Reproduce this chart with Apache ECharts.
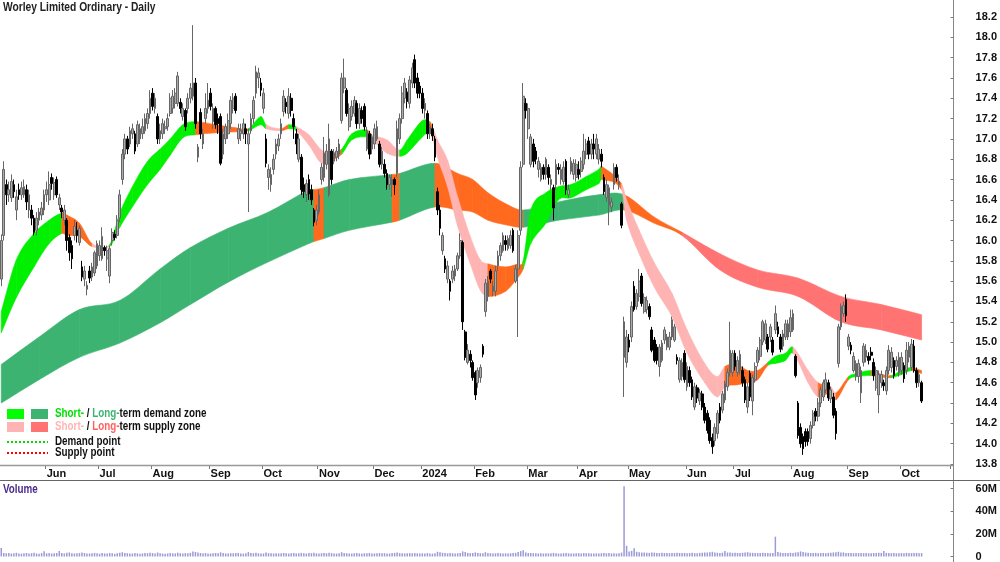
<!DOCTYPE html>
<html><head><meta charset="utf-8">
<script src="https://cdn.jsdelivr.net/npm/echarts@6/dist/echarts.min.js"></script>
<style>html,body{margin:0;padding:0;background:#fff}#c{width:1000px;height:562px}</style>
</head><body><div id="c"></div>
<script>
// ---- data: [open, close, low, high] per trading day ----
const candles = [
[15.62,16.00,15.55,16.06],[16.05,16.70,16.00,16.78],[16.55,16.45,16.35,16.60],[16.45,16.50,16.38,16.58],[16.42,16.58,16.38,16.65],
[16.55,16.48,16.42,16.60],[16.30,16.43,16.20,16.50],[16.50,16.45,16.40,16.56],[16.45,16.52,16.40,16.58],[16.45,16.53,16.42,16.60],
[16.50,16.38,16.30,16.55],[16.30,16.45,16.22,16.50],[16.30,16.22,16.15,16.35],[16.22,16.08,16.05,16.25],[16.10,16.22,16.05,16.28],
[16.20,16.28,16.15,16.32],[16.25,16.32,16.20,16.38],[16.30,16.45,16.25,16.50],[16.45,16.50,16.38,16.58],[16.40,16.55,16.35,16.68],
[16.62,16.56,16.50,16.66],[16.45,16.57,16.40,16.62],[16.60,16.45,16.42,16.63],[16.35,16.42,16.30,16.46],[16.32,16.28,16.22,16.35],
[16.20,16.30,16.15,16.35],[16.20,16.00,15.90,16.22],[16.03,15.88,15.80,16.06],[15.95,15.82,15.72,16.00],[16.05,16.14,16.00,16.20],
[16.10,16.05,15.98,16.18],[15.98,16.12,15.95,16.15],[15.74,15.64,15.60,15.80],[15.62,15.70,15.55,15.75],[15.52,15.56,15.46,15.60],
[15.70,15.63,15.58,15.75],[15.64,15.74,15.60,15.78],[15.68,15.88,15.65,15.90],[15.75,15.97,15.72,16.00],[15.85,15.95,15.80,16.00],
[15.82,16.04,15.80,16.13],[15.93,15.90,15.85,15.95],[15.82,15.90,15.70,15.95],[15.65,15.92,15.58,15.95],[16.00,16.08,15.95,16.12],
[16.06,16.03,16.00,16.10],[16.05,16.20,16.02,16.25],[16.22,16.45,16.18,16.50],[16.60,16.85,16.55,16.90],[16.85,17.00,16.80,17.05],
[17.00,16.90,16.85,17.03],[16.95,17.08,16.92,17.12],[17.05,17.10,17.00,17.15],[17.05,16.88,16.85,17.08],[16.95,17.14,16.92,17.18],
[17.00,17.10,16.95,17.15],[17.05,17.12,17.00,17.20],[17.08,17.20,17.05,17.25],[17.15,17.25,17.10,17.30],[17.25,17.40,17.20,17.48],
[17.45,17.32,17.28,17.50],[17.30,17.40,17.25,17.45],[17.22,17.00,16.95,17.25],[17.00,17.08,16.95,17.15],[17.05,17.15,17.00,17.20],
[17.10,17.12,17.05,17.18],[17.12,17.20,17.08,17.25],[17.25,17.40,17.22,17.45],[17.30,17.42,17.25,17.48],[17.35,17.45,17.30,17.50],
[17.35,17.62,17.32,17.66],[17.36,17.30,17.25,17.40],[17.22,17.30,17.18,17.35],[17.28,17.12,17.08,17.30],[17.30,17.40,17.25,17.45],
[17.40,17.50,17.35,17.55],[17.42,17.55,17.38,18.12],[17.55,17.15,17.10,17.60],[16.82,16.92,16.77,16.95],[17.26,17.05,17.00,17.30],
[16.95,17.05,16.90,17.10],[17.20,17.30,17.15,17.45],[17.30,17.38,17.25,17.55],[17.45,17.32,17.28,17.50],[17.17,17.30,17.10,17.35],
[17.30,17.14,17.10,17.32],[17.20,17.15,17.05,17.25],[17.22,16.76,16.74,17.25],[16.85,17.05,16.80,17.10],[17.00,17.12,16.95,17.15],
[17.05,17.18,17.00,17.25],[17.15,17.38,17.10,17.42],[17.30,17.40,17.25,17.45],[17.42,17.28,17.25,17.45],[17.00,17.10,16.95,17.15],
[17.05,17.08,16.98,17.15],[17.05,17.15,17.00,17.20],[17.10,17.05,16.95,17.15],[16.95,17.05,16.28,17.10],[17.08,17.20,17.05,17.25],
[17.20,17.38,17.15,17.42],[17.45,17.66,17.40,17.72],[17.60,17.65,17.50,17.70],[17.55,17.48,17.42,17.60],[17.30,17.45,17.25,17.50],
[17.00,16.76,16.72,17.05],[16.62,16.70,16.50,16.75],[16.55,16.65,16.48,16.72],[16.70,16.80,16.65,16.85],[16.85,16.95,16.80,17.00],
[16.93,17.00,16.88,17.05],[17.05,17.15,17.00,17.20],[17.27,17.42,17.22,17.48],[17.36,17.32,17.25,17.40],[17.25,17.42,17.20,17.50],
[17.40,17.28,17.22,17.45],[17.20,17.12,17.00,17.25],[17.05,16.95,16.85,17.10],[16.80,17.00,16.77,17.05],[16.82,16.50,16.45,16.85],
[16.55,16.48,16.42,16.62],[16.45,16.56,16.38,16.60],[16.60,16.46,16.40,16.65],[16.50,16.40,16.35,16.55],[16.30,16.18,16.14,16.32],
[16.20,16.30,16.15,16.35],[16.28,16.45,16.25,16.50],[16.60,16.72,16.55,16.76],[16.62,16.86,16.58,17.02],[16.75,16.88,16.70,16.95],
[16.45,17.00,16.43,17.15],[16.88,16.60,16.55,16.90],[16.78,16.86,16.75,16.90],[16.82,16.88,16.78,16.92],[16.85,16.95,16.80,17.00],
[17.18,17.60,17.15,17.65],[17.50,17.60,17.45,17.79],[17.48,17.25,17.22,17.50],[17.12,17.30,17.08,17.35],[17.22,17.32,17.18,17.38],
[17.25,17.38,17.22,17.42],[17.35,17.15,17.10,17.38],[17.15,17.30,17.10,17.35],[17.28,17.20,17.15,17.32],[17.32,17.12,17.08,17.35],
[16.90,17.08,16.88,17.12],[17.05,16.85,16.80,17.08],[16.90,17.02,16.85,17.05],[16.95,17.10,16.90,17.15],[17.00,17.12,16.98,17.18],
[16.95,16.75,16.72,16.98],[16.75,16.88,16.70,16.92],[16.75,16.66,16.62,16.80],[16.66,16.55,16.50,16.70],[16.55,16.62,16.50,16.65],
[16.55,16.60,16.43,16.65],[16.60,16.55,16.45,16.62],[16.66,17.10,16.62,17.18],[17.00,17.20,16.95,17.25],[17.20,17.45,17.15,17.52],
[17.40,17.55,17.35,17.60],[17.46,17.37,17.30,17.50],[17.35,17.58,17.30,17.62],[17.55,17.70,17.50,17.75],[17.78,17.55,17.50,17.83],
[17.60,17.45,17.40,17.65],[17.52,17.45,17.40,17.56],[17.45,17.30,17.25,17.50],[17.28,17.35,17.20,17.40],[17.25,17.05,17.00,17.28],
[17.05,17.12,17.00,17.15],[17.10,17.03,16.98,17.15],[17.00,16.82,16.78,17.03],[16.48,16.30,16.25,16.52],[16.30,16.12,16.05,16.35],
[15.90,16.05,15.86,16.08],[15.82,15.72,15.68,15.85],[15.62,15.75,15.58,15.80],[15.60,15.50,15.41,15.62],[15.62,15.70,15.58,15.75],
[15.65,15.72,15.60,15.76],[15.72,15.85,15.70,15.88],[15.85,16.00,15.82,16.07],[15.98,15.20,15.12,16.00],[15.10,14.85,14.82,15.12],
[14.80,14.92,14.78,14.98],[14.88,14.82,14.75,14.92],[14.80,14.65,14.62,14.82],[14.70,14.48,14.43,14.72],[14.60,14.72,14.55,14.75],
[14.65,14.75,14.60,14.78],[14.96,14.88,14.85,14.98],[15.30,15.58,15.25,15.62],[15.45,15.60,15.40,15.65],[15.70,15.62,15.58,15.72],
[15.50,15.55,15.45,15.60],[15.50,15.70,15.45,15.75],[15.75,15.85,15.70,15.90],[15.85,15.95,15.80,15.98],[15.90,16.05,15.88,16.08],
[16.00,15.96,15.90,16.05],[15.92,16.02,15.90,16.05],[15.95,16.05,15.92,16.10],[16.10,15.90,15.88,16.12],[15.60,15.72,15.58,15.76],
[15.72,16.05,15.05,16.10],[16.10,16.72,16.05,16.78],[16.75,17.42,16.72,17.55],[17.35,17.28,17.20,17.40],[17.10,17.30,17.00,17.35],
[16.75,17.02,16.72,17.05],[16.95,16.78,16.72,17.00],[16.88,16.80,16.75,16.92],[16.70,16.78,16.62,16.82],[16.60,16.72,16.58,16.76],
[16.72,16.65,16.60,16.75],[16.65,16.80,16.60,16.82],[16.72,16.62,16.55,16.75],[16.55,16.60,16.50,16.65],[16.52,16.32,16.20,16.55],
[16.55,16.75,16.50,16.80],[16.72,16.70,16.65,16.76],[16.60,16.70,16.55,16.75],[16.58,16.72,16.55,16.78],[16.78,16.50,16.45,16.80],
[16.45,16.50,16.42,16.55],[16.68,16.78,16.65,16.82],[16.65,16.76,16.60,16.80],[16.62,16.75,16.58,16.80],[16.70,16.65,16.60,16.78],
[16.68,16.78,16.62,16.82],[16.75,16.88,16.70,17.05],[16.85,16.95,16.80,17.00],[16.98,16.85,16.80,17.02],[16.85,16.95,16.80,17.00],
[16.95,16.90,16.80,17.05],[16.85,17.00,16.80,17.05],[16.80,16.90,16.75,16.95],[16.85,16.78,16.72,16.90],[16.62,16.48,16.45,16.65],
[16.42,16.55,16.38,16.60],[16.35,16.52,16.15,16.55],[16.33,16.38,16.28,16.42],[16.55,16.72,16.50,16.76],[16.72,16.62,16.58,16.75],
[16.55,16.58,16.50,16.65],[16.36,16.15,16.12,16.38],[14.85,15.20,14.46,15.25],[14.80,15.05,14.75,15.12],[15.02,14.95,14.90,15.08],
[15.05,15.35,15.00,15.40],[15.55,15.32,15.30,15.60],[15.35,15.48,15.32,15.52],[15.45,15.60,15.40,15.72],[15.65,15.38,15.35,15.68],
[15.30,15.44,15.28,15.48],[15.32,15.41,15.28,15.45],[15.35,15.25,15.22,15.38],[15.12,14.92,14.90,15.15],[15.02,14.82,14.80,15.05],
[14.95,14.82,14.78,14.98],[14.76,14.95,14.66,14.98],[14.82,14.99,14.80,15.02],[15.02,15.12,14.98,15.15],[14.95,15.05,14.92,15.08],
[14.95,15.05,14.92,15.10],[15.05,15.22,15.02,15.25],[15.02,15.15,15.00,15.18],[14.85,14.82,14.78,14.88],[14.63,14.82,14.60,14.85],
[14.66,14.80,14.62,14.84],[14.89,14.63,14.60,14.92],[14.56,14.76,14.52,14.80],[14.72,14.60,14.56,14.76],[14.63,14.46,14.43,14.66],
[14.36,14.56,14.33,14.60],[14.55,14.45,14.40,14.58],[14.42,14.50,14.38,14.54],[14.49,14.36,14.33,14.52],[14.36,14.23,14.20,14.40],
[14.30,14.13,14.10,14.33],[14.23,14.03,14.00,14.26],[14.06,13.97,13.90,14.10],[14.03,14.16,13.98,14.20],[14.10,14.30,14.05,14.33],
[14.36,14.23,14.20,14.40],[14.33,14.49,14.30,14.52],[14.43,14.59,14.40,14.62],[14.56,14.70,14.52,14.74],[14.70,14.92,14.66,15.20],
[14.70,14.89,14.66,14.92],[14.89,14.76,14.72,14.92],[14.70,14.82,14.66,14.86],[14.72,14.88,14.68,14.92],[14.72,14.60,14.56,14.76],
[14.63,14.43,14.40,14.66],[14.36,14.56,14.30,14.60],[14.69,14.46,14.42,14.72],[14.42,14.65,14.28,14.68],[14.63,14.76,14.60,14.80],
[14.80,14.92,14.76,14.95],[14.86,15.02,14.82,15.05],[15.00,15.20,14.97,15.22],[15.02,15.18,14.98,15.22],[15.05,14.93,14.90,15.08],
[15.05,15.15,15.00,15.18],[15.02,14.90,14.87,15.05],[15.12,15.28,15.08,15.36],[15.15,15.08,15.05,15.20],[15.05,14.93,14.90,15.08],
[14.96,15.08,14.92,15.12],[15.05,15.18,15.02,15.22],[15.05,15.18,15.02,15.22],[15.10,15.24,15.05,15.32],[15.12,15.28,15.10,15.32],
[14.86,14.67,14.65,14.88],[14.40,14.08,14.05,14.42],[14.16,14.00,13.96,14.20],[14.07,13.95,13.89,14.10],[14.12,14.02,13.97,14.15],
[14.12,14.02,13.98,14.15],[14.05,14.18,14.00,14.22],[14.18,14.30,14.15,14.33],[14.32,14.27,14.22,14.35],[14.27,14.40,14.22,14.45],
[14.40,14.53,14.36,14.56],[14.46,14.60,14.42,14.63],[14.53,14.63,14.50,14.70],[14.60,14.45,14.42,14.63],[14.44,14.53,14.40,14.56],
[14.46,14.28,14.25,14.50],[14.32,14.10,14.04,14.35],[14.79,15.15,14.75,15.18],[15.15,15.35,15.12,15.38],[15.28,15.36,15.25,15.40],
[15.42,15.26,15.20,15.47],[14.96,15.05,14.92,15.08],[14.97,14.92,14.88,15.00],[14.72,14.86,14.70,14.90],[14.66,14.79,14.62,14.82],
[14.66,14.79,14.60,14.83],[14.50,14.72,14.40,14.76],[14.80,14.96,14.76,14.99],[14.85,14.92,14.80,14.98],[14.86,14.82,14.78,14.90],
[14.90,14.87,14.82,14.95],[14.80,14.67,14.62,14.84],[14.55,14.72,14.52,14.76],[14.48,14.68,14.30,14.72],[14.60,14.68,14.55,14.72],
[14.60,14.57,14.52,14.63],[14.52,14.72,14.48,14.76],[14.72,14.92,14.68,14.97],[14.75,14.90,14.70,14.95],[14.82,14.67,14.64,14.85],
[14.76,14.82,14.72,14.86],[14.70,14.85,14.66,14.90],[14.72,14.85,14.68,14.90],[14.77,14.64,14.60,14.80],[14.72,14.92,14.68,15.00],
[14.85,14.96,14.80,15.00],[14.75,14.98,14.72,15.03],[14.96,14.72,14.70,15.02],[14.72,14.60,14.55,14.75],[14.60,14.68,14.56,14.72],
[14.60,14.42,14.40,14.62]
];
// volume, millions of shares
const volumes = [
7.5,3.2,2.8,3.0,2.6,2.9,3.3,2.7,2.5,2.8, 3.1,2.6,2.9,3.4,2.7,2.5,3.0,4.6,2.8,3.2,
2.6,2.9,3.1,4.8,3.0,2.7,3.3,3.6,2.9,2.6, 2.8,3.0,3.5,3.1,2.7,2.6,2.9,3.2,2.8,2.5,
3.0,2.7,2.6,3.1,2.8,2.4,2.9,3.3,3.8,3.2, 2.9,2.7,2.6,3.0,2.8,2.5,2.7,3.1,2.9,3.4,
3.0,2.7,3.5,2.8,2.6,2.4,2.7,3.1,2.8,2.6, 3.4,2.9,2.6,3.0,2.8,3.2,4.5,4.0,3.6,3.1,
2.8,3.0,2.7,2.6,2.9,3.1,2.8,3.7,3.0,2.7, 2.6,2.9,2.8,3.0,3.2,2.7,2.5,2.8,3.9,3.0,
2.9,3.3,2.8,2.6,2.7,3.5,3.0,2.8,2.6,2.9, 2.7,2.8,3.1,2.9,2.6,2.8,3.0,2.7,2.9,3.2,
2.8,2.6,3.0,2.9,3.3,2.8,2.7,2.9,3.1,2.8, 3.4,3.0,2.7,2.6,2.8,3.8,3.2,2.9,2.7,2.6,
2.8,3.0,2.7,2.5,2.9,2.8,3.1,2.6,2.7,2.9, 3.0,2.8,2.9,2.7,2.6,3.0,3.2,3.5,3.0,2.8,
2.7,2.9,3.0,2.8,3.2,2.9,2.6,2.8,2.7,3.0, 2.6,2.5,2.9,4.2,3.8,3.3,3.0,2.8,3.1,2.9,
2.7,2.8,3.0,4.5,3.9,3.2,3.0,3.1,3.6,3.0, 2.9,2.8,3.8,3.1,2.9,2.7,2.8,3.0,2.9,2.7,
2.8,2.6,2.9,3.0,3.2,4.0,4.8,5.5,3.6,3.1, 3.0,2.9,2.8,2.7,2.9,2.6,2.8,2.7,2.9,3.2,
2.8,2.6,2.7,2.9,3.0,2.8,2.7,2.6,2.8,2.9, 2.7,3.0,2.8,2.9,2.7,2.6,2.8,2.7,2.9,3.0,
2.8,3.1,2.7,2.9,2.6,2.8,3.4,62.0,9.5,4.5, 5.0,7.2,4.2,3.8,3.5,3.6,3.3,3.2,3.5,3.4,
3.2,3.0,3.3,3.1,3.0,2.9,3.2,3.0,3.4,3.1, 3.0,3.2,2.9,3.1,3.3,3.0,2.9,3.2,3.4,3.6,
3.5,3.8,4.2,3.6,3.3,3.2,3.4,4.8,3.5,3.6, 3.2,3.4,3.1,3.0,3.3,3.5,3.8,3.4,3.2,3.1,
3.0,3.2,3.3,3.1,3.0,2.9,3.2,17.5,4.0,3.4, 3.2,3.1,3.0,3.3,3.2,3.6,3.8,4.5,3.9,3.5,
3.3,3.1,3.0,3.2,2.9,3.0,3.1,2.9,3.2,3.4, 3.6,3.8,4.2,3.5,3.6,3.2,3.1,3.0,2.9,3.1,
3.0,3.2,2.9,3.0,2.8,2.9,3.1,3.0,3.3,3.2, 4.8,3.2,3.0,2.9,3.1,2.8,2.9,3.0,2.8,3.2,
3.0,2.9,3.1,3.2,2.8,3.0
];
// zone bands: [dayIndex, lower, upper, state of the following stretch]
const shortBand = [
[0,15.09,15.30,'G'],[6,15.44,15.81,'G'],[13,15.74,16.07,'G'],[19,15.97,16.20,'G'],[24,16.07,16.27,'O'],
[26,16.05,16.25,'O'],[31,16.04,16.17,'O'],[36,15.94,15.97,'P'],[43,15.94,15.96,'G'],[47,16.13,16.27,'G'],
[52,16.33,16.53,'G'],[58,16.55,16.78,'G'],[63,16.70,16.90,'G'],[67,16.84,17.00,'G'],[72,17.01,17.14,'G'],
[77,17.04,17.17,'O'],[85,17.06,17.14,'O'],[93,17.07,17.11,'O'],[98,17.08,17.10,'G'],[103,17.14,17.22,'G'],
[105,17.10,17.14,'P'],[111,17.08,17.10,'O'],[114,17.10,17.14,'G'],[117,17.08,17.12,'P'],[122,16.94,17.04,'P'],
[127,16.76,16.89,'P'],[131,16.79,16.86,'O'],[135,16.85,16.90,'G'],[139,16.99,17.05,'G'],[145,17.02,17.09,'O'],
[147,16.99,17.04,'P'],[153,16.86,16.99,'P'],[158,16.83,16.89,'G'],[161,16.86,16.99,'G'],[167,17.02,17.18,'G'],
[170,17.07,17.17,'O'],[171,17.02,17.12,'P'],[173,16.82,16.99,'P'],[177,16.53,16.79,'P'],[181,16.14,16.43,'P'],
[186,15.77,16.04,'P'],[190,15.51,15.81,'P'],[193,15.45,15.77,'O'],[200,15.50,15.74,'O'],[205,15.64,15.77,'O'],
[207,15.72,15.80,'G'],[210,15.97,16.30,'G'],[216,16.17,16.47,'G'],[221,16.40,16.53,'G'],[226,16.42,16.55,'G'],
[232,16.50,16.63,'G'],[237,16.56,16.70,'G'],[238,16.60,16.73,'O'],[246,16.50,16.56,'P'],[248,16.20,16.40,'P'],
[253,15.87,16.10,'P'],[259,15.54,15.78,'P'],[266,15.25,15.48,'P'],[272,14.89,15.12,'P'],[279,14.60,14.79,'P'],
[284,14.46,14.66,'P'],[287,14.56,14.76,'O'],[292,14.58,14.78,'O'],[296,14.60,14.72,'O'],[300,14.63,14.72,'O'],
[304,14.77,14.80,'G'],[307,14.79,14.86,'G'],[311,14.82,14.89,'G'],[314,14.89,14.95,'P'],[320,14.60,14.72,'P'],
[324,14.46,14.60,'O'],[329,14.50,14.56,'P'],[331,14.43,14.50,'O'],[336,14.63,14.66,'G'],[339,14.66,14.69,'G'],
[345,14.67,14.72,'O'],[348,14.66,14.69,'O'],[353,14.65,14.67,'G'],[357,14.68,14.72,'G'],[361,14.72,14.75,'O'],
[365,14.69,14.72,'O']
];
const longBand = [
[0,14.40,14.78,'D'],[15,14.63,15.05,'D'],[31,14.85,15.32,'D'],[47,14.99,15.41,'D'],[63,15.19,15.72,'D'],
[75,15.37,15.93,'D'],[90,15.59,16.12,'D'],[106,15.79,16.28,'D'],[122,15.97,16.50,'D'],[124,15.99,16.50,'O'],
[128,16.02,16.52,'D'],[138,16.10,16.60,'D'],[155,16.18,16.65,'O'],[158,16.20,16.66,'D'],[172,16.33,16.76,'O'],
[181,16.30,16.66,'O'],[187,16.28,16.60,'O'],[193,16.20,16.47,'O'],[201,16.15,16.35,'O'],[207,16.13,16.30,'D'],
[221,16.20,16.38,'D'],[237,16.25,16.45,'D'],[247,16.30,16.45,'O'],[259,16.17,16.23,'O'],[270,16.05,16.08,'R'],
[285,15.71,15.87,'R'],[300,15.54,15.71,'R'],[316,15.45,15.63,'R'],[333,15.20,15.45,'R'],[349,15.12,15.37,'R'],
[365,15.02,15.27,'R']
];
const monthNames = ['2024','Feb','Mar','Apr','May','Jun','Jul','Aug','Sep','Oct','Nov','Dec'];
const holidays = ['2023-06-12','2023-12-25','2023-12-26','2024-01-01','2024-01-26','2024-03-29','2024-04-01','2024-04-25','2024-06-10'];

// trading-day calendar (category axis)
const cats = [];
(function(){ const d = new Date(Date.UTC(2023,4,8));
  while (cats.length < 377) { const w = d.getUTCDay(); const s = d.toISOString().slice(0,10);
    if (w !== 0 && w !== 6 && holidays.indexOf(s) < 0) cats.push(s); d.setUTCDate(d.getUTCDate()+1); } })();
const monthStart = cats.map((s,i) => i > 0 && s.slice(0,7) !== cats[i-1].slice(0,7));

const zoneColor = {G:'#00f000', P:'#ffb4b4', D:'#3cb371', R:'#ff7373', O:'#ff6a1f'};
function bandSeries(b){
  return { type:'custom', xAxisIndex:0, yAxisIndex:0, z:1, silent:true, clip:true,
    encode:{x:[0,3], y:[1,2,4,5]},
    data: b.slice(0,-1).map((p,k)=>[p[0],p[1],p[2],b[k+1][0],b[k+1][1],b[k+1][2]]),
    renderItem: function(params, api){
      const k = params.dataIndex, n = b.length;
      const P = (j,w) => { j = Math.max(0, Math.min(n-1, j)); return api.coord([b[j][0], b[j][w]]); };
      function curve(w){
        const p0=P(k-1,w), p1=P(k,w), p2=P(k+1,w), p3=P(k+2,w);
        const m1 = (p2[1]-p0[1])/((p2[0]-p0[0])||1), m2 = (p3[1]-p1[1])/((p3[0]-p1[0])||1);
        const dx = (p2[0]-p1[0])/3;
        return [p1,[p1[0]+dx,p1[1]+m1*dx],[p2[0]-dx,p2[1]-m2*dx],p2];
      }
      const u = curve(2), l = curve(1);
      const f = (p)=>p[0].toFixed(2)+','+p[1].toFixed(2);
      const d = 'M'+f(u[0])+'C'+f(u[1])+' '+f(u[2])+' '+f(u[3])+'L'+f(l[3])+'C'+f(l[2])+' '+f(l[1])+' '+f(l[0])+'Z';
      const c = zoneColor[b[k][3]];
      return { type:'path', shape:{pathData:d}, style:{fill:c, stroke:c, lineWidth:0.6} };
    } };
}
const FONT = "'Liberation Sans',Arial,sans-serif";
const chart = echarts.init(document.getElementById('c'), null, {renderer:'canvas'});
const txt = (x,y,s,opt) => Object.assign({type:'text', x:x, y:y, scaleX:0.82, z:10,
  style:Object.assign({text:s, font:'bold 12px '+FONT, fill:'#111', verticalAlign:'middle'}, opt||{})});
chart.setOption({
  animation:false,
  backgroundColor:'#fff',
  grid:[{left:0, right:47, top:17, height:447},{left:0, right:47, top:481.8, height:79.2}],
  xAxis:[
    {type:'category', gridIndex:0, data:cats, boundaryGap:true, offset:2,
     axisLine:{show:false},
     axisTick:{show:true, length:3, interval:(i)=>monthStart[i], lineStyle:{color:'#777'}},
     axisLabel:{interval:(i)=>monthStart[i], align:'left', margin:2, fontFamily:FONT, fontWeight:'bold', fontSize:11, color:'#111',
       formatter:(v)=>monthNames[parseInt(v.slice(5,7),10)-1]},
     splitLine:{show:false}},
    {type:'category', gridIndex:1, data:cats, boundaryGap:true, axisLine:{show:false}, axisTick:{show:false}, axisLabel:{show:false}}
  ],
  yAxis:[
    {type:'value', gridIndex:0, position:'right', min:13.8, max:18.2, interval:0.2,
     axisLine:{show:false}, axisTick:{show:true, length:3, lineStyle:{color:'#777'}}, splitLine:{show:false},
     axisLabel:{margin:25, fontFamily:FONT, fontWeight:'bold', fontSize:11, color:'#111', formatter:(v)=>v.toFixed(1)}},
    {type:'value', gridIndex:1, position:'right', min:0, max:66, interval:20,
     axisLine:{show:false}, axisTick:{show:true, length:3, lineStyle:{color:'#777'}}, splitLine:{show:false},
     axisLabel:{margin:25, showMaxLabel:false, fontFamily:FONT, fontWeight:'bold', fontSize:11, color:'#111', formatter:(v)=> v===0?'0':v+'M'}}
  ],
  series:[
    bandSeries(longBand),
    bandSeries(shortBand),
    {type:'candlestick', xAxisIndex:0, yAxisIndex:0, z:3, data:candles, barWidth:2.2,
     itemStyle:{color:'#aaaaaa', color0:'#000000', borderColor:'#666666', borderColor0:'#000000', borderWidth:1}},
    {type:'bar', xAxisIndex:1, yAxisIndex:1, data:volumes, barWidth:1.5, itemStyle:{color:'#9a9ad8'}}
  ],
  graphic:[
    {type:'line', shape:{x1:953.5,y1:0,x2:953.5,y2:562}, style:{stroke:'#888',lineWidth:1}, z:10},
    {type:'line', shape:{x1:0,y1:465.5,x2:953,y2:465.5}, style:{stroke:'#999',lineWidth:1.5}, z:10},
    {type:'line', shape:{x1:0,y1:480.5,x2:1000,y2:480.5}, style:{stroke:'#666',lineWidth:1}, z:10},
    txt(3,8,'Worley Limited Ordinary - Daily',{fill:'#222', font:'bold 12.5px '+FONT}),
    txt(3,490,'Volume',{fill:'#4b2a8c'}),
    {type:'rect', shape:{x:7,y:409,width:17,height:10}, style:{fill:'#00ff00'}, z:10},
    {type:'rect', shape:{x:31,y:409,width:17,height:10}, style:{fill:'#3cb371'}, z:10},
    {type:'rect', shape:{x:7,y:422,width:17,height:10}, style:{fill:'#ffb4b4'}, z:10},
    {type:'rect', shape:{x:31,y:422,width:17,height:10}, style:{fill:'#ff7373'}, z:10},
    {type:'line', shape:{x1:7,y1:442,x2:48,y2:442}, style:{stroke:'#00dd00',lineWidth:2,lineDash:[2,2]}, z:10},
    {type:'line', shape:{x1:7,y1:453,x2:48,y2:453}, style:{stroke:'#ff0000',lineWidth:2,lineDash:[2,2]}, z:10},
    txt(55,414,'{g|Short-} / {d|Long-}term demand zone',{rich:{g:{fill:'#00e000', font:'bold 12px '+FONT}, d:{fill:'#3cb371', font:'bold 12px '+FONT}}}),
    txt(55,427,'{p|Short-} / {r|Long-}term supply zone',{rich:{p:{fill:'#ffb4b4', font:'bold 12px '+FONT}, r:{fill:'#ff6060', font:'bold 12px '+FONT}}}),
    txt(55,441.5,'Demand point'),
    txt(55,452.5,'Supply point')
  ]
});
</script></body></html>
